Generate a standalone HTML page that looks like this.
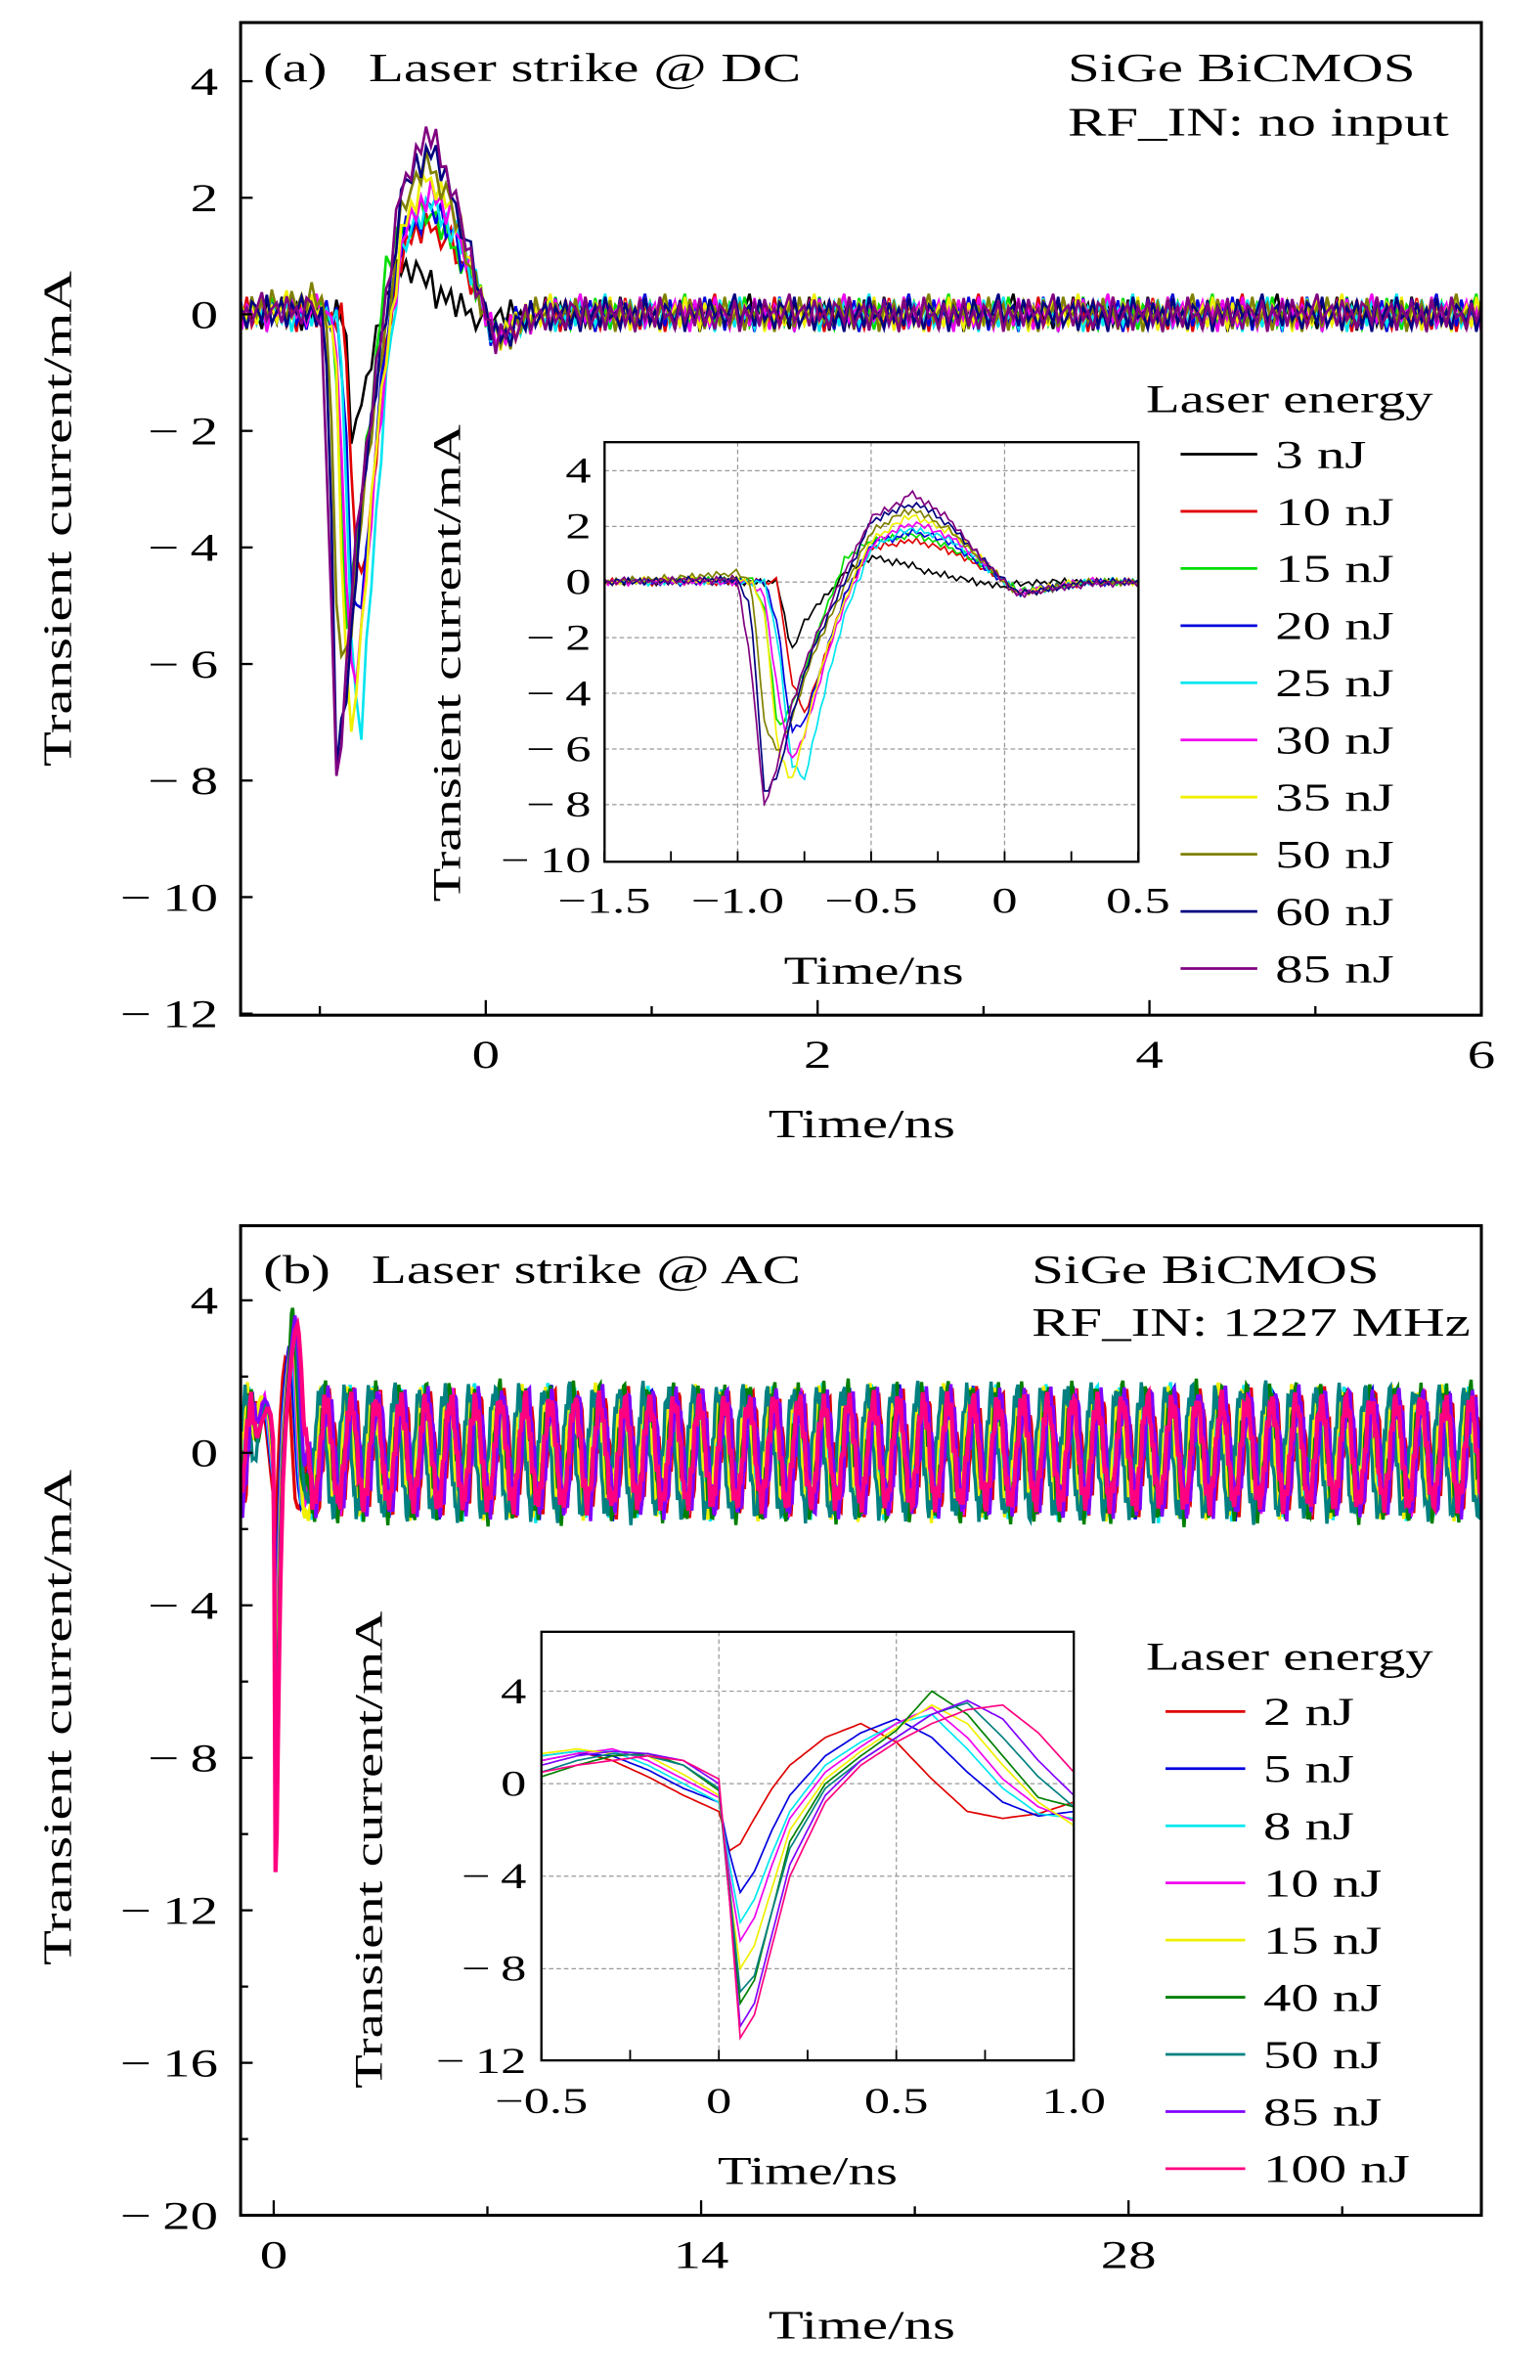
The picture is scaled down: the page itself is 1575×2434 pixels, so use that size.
<!DOCTYPE html>
<html><head><meta charset="utf-8"><style>
html,body{margin:0;padding:0;background:#fff}
svg{display:block}
text{font-family:"Liberation Serif",serif;fill:#000}
</style></head><body>
<svg id="fig" width="1575" height="2434" viewBox="0 0 1024 1582.5" xmlns="http://www.w3.org/2000/svg">
<defs>
<clipPath id="clipA"><rect x="160" y="15" width="825" height="660"/></clipPath>
<clipPath id="clipAi"><rect x="402" y="294" width="355" height="279"/></clipPath>
<clipPath id="clipB"><rect x="160" y="815" width="825" height="658"/></clipPath>
<clipPath id="clipBi"><rect x="360" y="1085" width="354" height="285"/></clipPath>
</defs>
<g id="root"></g>
</svg>
<script>
// ---------- Panel (a) data ----------
const aLabels = ["3 nJ","10 nJ","15 nJ","20 nJ","25 nJ","30 nJ","35 nJ","50 nJ","60 nJ","85 nJ"];
const aColors = ["#000000","#e00000","#00dd00","#0000dd","#00e5f0","#f000f0","#f0f000","#808000","#000080","#800080"];
const aTimes = [-1.5,-1.0,-0.95,-0.9,-0.85,-0.8,-0.75,-0.7,-0.65,-0.6,-0.5,-0.4,-0.35,-0.3,-0.2,-0.1,0,0.05,0.15,0.3,0.5];
const a3  = [0,0,0,0,0,-2.5,-1.5,-0.8,-0.3,0.3,0.9,0.7,0.6,0.4,0.2,0,-0.2,-0.1,0,0,0];
const a10 = [0,0,0,0,0,-3.5,-4.7,-3.5,-2,-0.5,1.2,1.4,1.5,1.4,1.1,0.6,0,-0.4,-0.3,0,0];
const a15 = [0,0.1,0.1,-1,-5.3,-4.5,-3.2,-1.8,-0.5,0.8,1.5,1.6,1.7,1.6,1.2,0.7,0,-0.3,-0.2,0,0];
const a20 = [0,0,0,0,-1.5,-5.4,-5,-3.5,-2,-0.5,1.4,1.6,1.8,1.7,1.4,0.7,0,-0.4,-0.2,0,0];
const a25 = [0,0,0,0,-2,-6.5,-7.1,-5,-3,-1.2,1.2,1.7,1.9,1.8,1.5,0.8,0,-0.4,-0.3,0,0];
const a30 = [0,0,0,-0.5,-4,-6.5,-5.5,-3.8,-2.2,-0.8,1.3,1.9,2.1,2.0,1.6,0.9,0,-0.4,-0.2,0,0];
const a35 = [0,0.1,0,-1,-6,-7.2,-5.5,-3.5,-2,-0.7,1.5,2.1,2.4,2.2,1.8,1,0,-0.4,-0.2,0,0];
const a50 = [0,0.3,0,-5,-6.2,-5,-3.5,-2.2,-1.2,-0.2,1.8,2.4,2.6,2.4,1.8,0.9,0,-0.4,-0.3,0,0];
const a60 = [0,0.1,-1,-7.6,-7,-5,-3.3,-2,-1,0,2.2,2.6,2.8,2.7,2.0,1,0,-0.4,-0.3,0,0];
const a85 = [0,0.1,-3,-8.1,-6.5,-4.5,-3,-1.8,-0.8,0.3,2.3,2.8,3.2,2.9,2.2,1,0,-0.5,-0.3,-0.1,0];
const aSeries = [a3,a10,a15,a20,a25,a30,a35,a50,a60,a85];
const aNoise = [0.15,-0.2,0.25,-0.1,0.05,-0.25,0.2,0.1,-0.15,0.3,-0.2,0.0,0.18,-0.28,0.12,-0.05,0.22,-0.18,0.08,-0.3,0.25,-0.1,0.14,-0.22,0.3,-0.06,0.02,-0.24,0.2,-0.12,0.1,-0.2,0.28,-0.16,0.06,-0.26,0.16,0.04,-0.14,0.24,-0.3,0.12,-0.08,0.2,-0.2,0.26,-0.04,0.1,-0.18,0.08,0.35,-0.12,0.05];
const aNoiseShift = [0,7,13,21,29,34,40,17,3,45];
const aYTicks = [4,2,0,-2,-4,-6,-8,-10,-12];
const aXTicks = [0,2,4,6];
const aiYTicks = [4,2,0,-2,-4,-6,-8,-10];
const aiXTicks = [-1.5,-1.0,-0.5,0,0.5];
const aiXLabels = ["\u22121.5","\u22121.0","\u22120.5","0","0.5"];

// ---------- Panel (b) data ----------
const bLabels = ["2 nJ","5 nJ","8 nJ","10 nJ","15 nJ","40 nJ","50 nJ","85 nJ","100 nJ"];
const bColors = ["#e00000","#0000e0","#00e8f0","#f000f0","#f0f000","#008000","#008080","#8000ff","#ff0080"];
const bTimes = [-0.5,-0.4,-0.3,-0.2,-0.1,0,0.03,0.06,0.1,0.15,0.2,0.3,0.4,0.5,0.6,0.7,0.8,0.9,1.0];
const b2   = [1.2,1.4,1.0,0.3,-0.5,-1.2,-2.9,-2.6,-1.5,-0.2,0.8,2.0,2.6,1.8,0.2,-1.2,-1.5,-1.3,-0.8];
const b5   = [1.0,1.3,1.2,0.6,-0.2,-0.8,-3,-4.7,-3.8,-2,-0.5,1.2,2.2,2.8,2.0,0.5,-0.8,-1.4,-1.2];
const b8   = [1.2,1.4,1.4,0.8,0,-0.8,-3.5,-6,-5,-3,-1.2,0.8,1.8,2.6,3.0,1.5,-0.2,-1.3,-1.5];
const b10  = [1.0,1.3,1.5,1.0,0.2,-0.6,-4,-6.8,-5.8,-3.5,-1.5,0.5,1.6,2.6,3.3,2.0,0.2,-1.0,-1.6];
const b15  = [1.3,1.5,1.3,1.2,0.4,-0.5,-4.5,-8,-7,-4.5,-2,0.2,1.4,2.4,3.4,2.6,0.8,-0.8,-1.8];
const b40  = [0.3,0.8,1.2,1.3,0.8,-0.3,-5,-9.5,-8.5,-5.5,-2.5,0,1.2,2.3,4.0,3.0,1.2,-0.6,-1.0];
const b50  = [0.5,1.0,1.3,1.2,0.8,-0.2,-4.5,-9,-8.3,-5.5,-2.8,-0.2,1.0,2.0,3.0,3.5,2.0,0.3,-1.0];
const b85  = [0.8,1.2,1.4,1.3,1.0,0,-5,-10.5,-9.5,-6.5,-3.5,-0.5,1.0,2.0,3.0,3.6,2.8,1.0,-0.5];
const b100 = [0.5,0.8,1.0,1.2,1.0,0.2,-5,-11,-10,-7,-4,-0.8,0.8,1.8,2.6,3.2,3.4,2.2,0.5];
const bSeries = [b2,b5,b8,b10,b15,b40,b50,b85,b100];
const bAmp = [1.4,1.45,1.5,1.35,1.5,1.6,1.55,1.45,1.3];
const bPhase = [0.0,0.7,1.3,0.4,1.9,1.0,2.4,0.2,0.9];
const bFreqGHz = [1.227];
const bNoise = [0.2,-0.3,0.1,0.35,-0.15,-0.25,0.3,0.05,-0.35,0.15,0.25,-0.1,-0.2,0.3,-0.05,0.1,-0.3,0.2,0.35,-0.2,0.0,-0.15,0.25,-0.28,0.12,0.3,-0.22,0.08,-0.12,0.18];
const bYTicks = [4,0,-4,-8,-12,-16,-20];
const bXTicks = [0,14,28];
const biYTicks = [4,0,-4,-8,-12];
const biXTicks = [-0.5,0,0.5,1.0];
const biXLabels = ["\u22120.5","0","0.5","1.0"];

const NS="http://www.w3.org/2000/svg";
const root=document.getElementById('root');
function mk(tag,attrs,parent){const e=document.createElementNS(NS,tag);for(const k in attrs)e.setAttribute(k,attrs[k]);(parent||root).appendChild(e);return e;}
function txt(s,x,y,size,anchor,parent){const t=mk('text',{x:x,y:y,'font-size':size,'text-anchor':anchor||'middle'},parent);t.textContent=s;return t;}
function fmt(v){return v<0?"\u2212\u2009"+Math.abs(v):String(v);}
function interp(xs,ys,t){if(t<=xs[0])return ys[0];if(t>=xs[xs.length-1])return ys[ys.length-1];for(let i=1;i<xs.length;i++){if(t<=xs[i]){const f=(t-xs[i-1])/(xs[i]-xs[i-1]);return ys[i-1]+f*(ys[i]-ys[i-1]);}}}

const axA={x:t=>323+(t)*110.33,y:v=>209-v*38.75};
const axAi={x:t=>668+t*177.5,y:v=>387-v*18.5};
const axB={x:t=>182+t*20.3,y:v=>966-v*25.35};
const axBi={x:t=>478+t*236,y:v=>1186-v*15.375};

// ---------- Panel (a) ----------
const gA=mk('g',{});


const linesA=mk('g',{'clip-path':'url(#clipA)'},gA);
aSeries.forEach((arr,s)=>{
  let d="";let i=0;
  for(let t=-1.5;t<=6.02;t+=0.03,i++){
    const n=aNoise[(i+aNoiseShift[s])%aNoise.length];
    const v=interp(aTimes,arr,t)+n;
    d+=(d?"L":"M")+axA.x(t).toFixed(1)+" "+axA.y(v).toFixed(1);
  }
  const p=mk('path',{d:d,fill:'none',stroke:aColors[s],'stroke-width':1.7},linesA);
  
  
});
mk('rect',{x:160,y:15,width:825,height:660,fill:'none',stroke:'#000','stroke-width':2},gA);
aYTicks.forEach(v=>{const y=axA.y(v);mk('line',{x1:160,x2:168,y1:y,y2:y,stroke:'#000','stroke-width':1.5},gA);
  const t=txt(fmt(v),145,y+9,26,'end',gA);});
[-1,0,1,2,3,4,5].forEach(v=>{const x=axA.x(v);const major=aXTicks.includes(v);mk('line',{x1:x,x2:x,y1:675,y2:major?665:669,stroke:'#000','stroke-width':1.5},gA);});
aXTicks.forEach(v=>{const t=txt(fmt(v),axA.x(v),710,26,'middle',gA);});
let t1=txt("Time/ns",573,756,27,'middle',gA);
let t2=txt("Transient current/mA",0,0,27,'middle',gA);t2.setAttribute('transform','translate(47,345) rotate(-90)');

let t3a=txt("(a)",175,54,27,'start',gA);
let t3=txt("Laser strike @ DC",245,54,27,'start',gA);
let t4=txt("SiGe BiCMOS",710,54,27,'start',gA);
let t5=txt("RF_IN: no input",710,90,27,'start',gA);

const legA=mk('g',{},gA);


txt("Laser energy",762,274,26,'start',legA);
aLabels.forEach((l,s)=>{const y=302+s*38;
  const e=mk('g',{},legA);
  
  
  mk('line',{x1:785,x2:836,y1:y,y2:y,stroke:aColors[s],'stroke-width':1.8},e);
  txt(l,848,y+9,26,'start',e);});

const gAi=mk('g',{},gA);


mk('rect',{x:402,y:294,width:355,height:279,fill:'#fff'},gAi);
aiYTicks.forEach(v=>{const y=axAi.y(v);if(v>-10)mk('line',{x1:402,x2:757,y1:y,y2:y,stroke:'#999','stroke-width':0.8,'stroke-dasharray':'3,2'},gAi);});
aiXTicks.forEach(v=>{const x=axAi.x(v);if(v>-1.5&&v<0.5)mk('line',{x1:x,x2:x,y1:294,y2:573,stroke:'#999','stroke-width':0.8,'stroke-dasharray':'3,2'},gAi);});
const linesAi=mk('g',{'clip-path':'url(#clipAi)'},gAi);
aSeries.forEach((arr,s)=>{
  let d="";let i=0;
  for(let t=-1.5;t<=0.52;t+=0.015,i++){
    const n=0.45*aNoise[(i+aNoiseShift[s])%aNoise.length];
    const v=interp(aTimes,arr,t)+n;
    d+=(d?"L":"M")+axAi.x(t).toFixed(1)+" "+axAi.y(v).toFixed(1);
  }
  const p=mk('path',{d:d,fill:'none',stroke:aColors[s],'stroke-width':1.1},linesAi);
  
  
});
mk('rect',{x:402,y:294,width:355,height:279,fill:'none',stroke:'#000','stroke-width':1.5},gAi);
aiYTicks.forEach(v=>{const y=axAi.y(v);txt(fmt(v),393,y+8,24,'end',gAi);});
[-1.5,-1.25,-1,-0.75,-0.5,-0.25,0,0.25,0.5].forEach(v=>{const x=axAi.x(v);mk('line',{x1:x,x2:x,y1:573,y2:566,stroke:'#000','stroke-width':1.2},gAi);});
aiXTicks.forEach((v,k)=>{txt(aiXLabels[k],axAi.x(v),607,24,'middle',gAi);});
txt("Time/ns",581,654,26,'middle',gAi);
let t6=txt("Transient current/mA",0,0,26,'middle',gAi);t6.setAttribute('transform','translate(306,441) rotate(-90)');


// ---------- Panel (b) ----------
const gB=mk('g',{});


const linesB=mk('g',{'clip-path':'url(#clipB)'},gB);
function bVal(s,t,i){
  const w=2*Math.PI*bFreqGHz[0];
  const osc=bAmp[s]*Math.sin(w*t+bPhase[s])+bNoise[(i+s*3)%bNoise.length];
  const a=bTimes[0],b=bTimes[bTimes.length-1];
  if(t<a-0.25||t>b+0.25)return osc;
  const pv=interp(bTimes,bSeries[s],t);
  let wt=1;
  if(t<a)wt=1-(a-t)/0.25; else if(t>b)wt=1-(t-b)/0.25;
  return wt*pv+(1-wt)*osc;
}
bSeries.forEach((arr,s)=>{
  let d="";let i=0;
  for(let t=-1.1;t<=39.7;t+=0.04,i++){
    const v=bVal(s,t,i);
    d+=(d?"L":"M")+axB.x(t).toFixed(1)+" "+axB.y(v).toFixed(1);
  }
  const p=mk('path',{d:d,fill:'none',stroke:bColors[s],'stroke-width':s===8?2.8:2.2},linesB);
  
  
});
mk('rect',{x:160,y:815,width:825,height:658,fill:'none',stroke:'#000','stroke-width':2},gB);
[4,2,0,-2,-4,-6,-8,-10,-12,-14,-16,-18,-20].forEach(v=>{const y=axB.y(v);const major=bYTicks.includes(v);mk('line',{x1:160,x2:major?168:165,y1:y,y2:y,stroke:'#000','stroke-width':1.5},gB);});
bYTicks.forEach(v=>{const t=txt(fmt(v),145,axB.y(v)+9,26,'end',gB);});
[0,7,14,21,28,35].forEach(v=>{const x=axB.x(v);const major=bXTicks.includes(v);mk('line',{x1:x,x2:x,y1:1473,y2:major?1463:1467,stroke:'#000','stroke-width':1.5},gB);});
bXTicks.forEach(v=>{const t=txt(fmt(v),axB.x(v),1508,26,'middle',gB);});
let u1=txt("Time/ns",573,1555,27,'middle',gB);
let u2=txt("Transient current/mA",0,0,27,'middle',gB);u2.setAttribute('transform','translate(47,1142) rotate(-90)');

let u3a=txt("(b)",175,853,27,'start',gB);
let u3=txt("Laser strike @ AC",247,853,27,'start',gB);
let u4=txt("SiGe BiCMOS",686,853,27,'start',gB);
let u5=txt("RF_IN: 1227 MHz",686,888,27,'start',gB);

const legB=mk('g',{},gB);


mk('rect',{x:752,y:1080,width:225,height:380,fill:'#fff'},legB);
txt("Laser energy",762,1110,26,'start',legB);
bLabels.forEach((l,s)=>{const y=1138+s*38;
  const e=mk('g',{},legB);
  
  
  mk('line',{x1:775,x2:828,y1:y,y2:y,stroke:bColors[s],'stroke-width':1.8},e);
  txt(l,840,y+9,26,'start',e);});

const gBi=mk('g',{},gB);


mk('rect',{x:230,y:1060,width:484,height:345,fill:'#fff'},gBi);
biYTicks.forEach(v=>{const y=axBi.y(v);if(v>-12)mk('line',{x1:360,x2:714,y1:y,y2:y,stroke:'#999','stroke-width':0.8,'stroke-dasharray':'3,2'},gBi);});
biXTicks.forEach(v=>{const x=axBi.x(v);if(v>-0.5&&v<1)mk('line',{x1:x,x2:x,y1:1085,y2:1370,stroke:'#999','stroke-width':0.8,'stroke-dasharray':'3,2'},gBi);});
const linesBi=mk('g',{'clip-path':'url(#clipBi)'},gBi);
bSeries.forEach((arr,s)=>{
  let d="";
  for(let t=-0.5;t<=1.0001;t+=0.01){
    const v=interp(bTimes,arr,t);
    d+=(d?"L":"M")+axBi.x(t).toFixed(1)+" "+axBi.y(v).toFixed(1);
  }
  const p=mk('path',{d:d,fill:'none',stroke:bColors[s],'stroke-width':1.1},linesBi);
  
  
});
mk('rect',{x:360,y:1085,width:354,height:285,fill:'none',stroke:'#000','stroke-width':1.5},gBi);
biYTicks.forEach(v=>{txt(fmt(v),350,axBi.y(v)+8,24,'end',gBi);});
[-0.5,-0.25,0,0.25,0.5,0.75,1.0].forEach(v=>{const x=axBi.x(v);mk('line',{x1:x,x2:x,y1:1370,y2:1363,stroke:'#000','stroke-width':1.2},gBi);});
biXTicks.forEach((v,k)=>{txt(biXLabels[k],axBi.x(v),1405,24,'middle',gBi);});
txt("Time/ns",537,1452,26,'middle',gBi);
let u6=txt("Transient current/mA",0,0,26,'middle',gBi);u6.setAttribute('transform','translate(254,1230) rotate(-90)');


// widen text to mimic the wider reference typeface
document.querySelectorAll('#root text').forEach(t=>{
  try{const w=t.getComputedTextLength();if(w>0){t.setAttribute('textLength',(w*1.42).toFixed(1));t.setAttribute('lengthAdjust','spacingAndGlyphs');}}catch(e){}
});
</script>
</body></html>
